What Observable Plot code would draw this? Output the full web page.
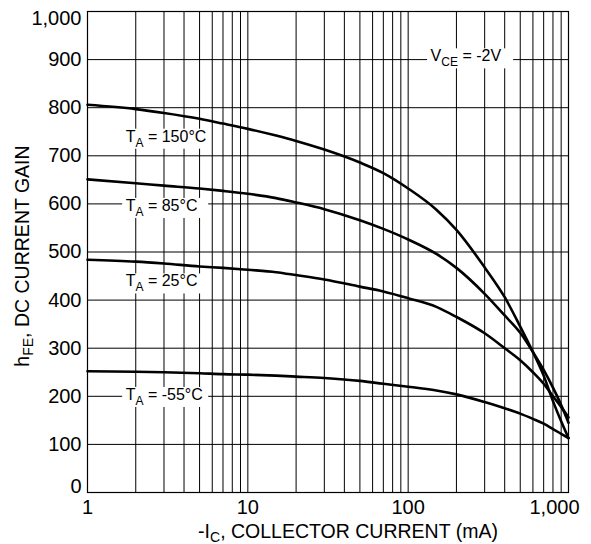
<!DOCTYPE html>
<html>
<head>
<meta charset="utf-8">
<script src="https://cdn.jsdelivr.net/npm/d3@7"></script>
<script src="https://cdn.jsdelivr.net/npm/@observablehq/plot@0.6"></script>
<style>
  html, body { margin: 0; padding: 0; background: #fff; }
  #chart svg { display: block; }
</style>
</head>
<body>
<div id="chart"></div>
<script>
// Collector current (mA), shared by every temperature curve
const current = [1, 2, 3, 5, 7, 10, 15, 20, 30, 50, 70, 100, 150, 200, 300, 400, 500, 600, 700, 800, 900, 1000];

// DC current gain hFE at each ambient temperature
const gain150 = [806, 797, 789, 777, 767, 756, 742, 731, 713, 686, 664, 632, 588, 546, 468, 406, 345, 292, 243, 190, 148, 113];
const gain85  = [651, 643, 638, 632, 627, 621, 612, 603, 589, 566, 548, 526, 496, 467, 413, 368, 332, 292, 255, 218, 182, 145];
const gain25  = [484, 480, 476, 470, 467, 463, 458, 452, 443, 428, 418, 404, 386, 365, 331, 300, 275, 250, 226, 200, 178, 156];
const gainM55 = [252, 251, 250, 248, 246, 245, 243, 241, 238, 232, 226, 220, 212, 204, 188, 175, 164, 153, 143, 132, 122, 113];

const seriesKeys = ["150", "85", "25", "-55"];
const seriesValues = [gain150, gain85, gain25, gainM55];

// In-plot annotations: main letter, subscript, remainder, anchor position
const labelMain = ["T", "T", "T", "T", "V"];
const labelSub  = ["A", "A", "A", "A", "CE"];
const labelRest = [" = 150°C", " = 85°C", " = 25°C", " = -55°C", " = -2V"];
const labelX    = [1.73, 1.73, 1.73, 1.73, 138];
const labelY    = [740, 596, 439, 203, 907];

// Axes
const xTickLabels = [1, 10, 100];
const xLastTick = [1000];
const yTickLabels = [100, 200, 300, 400, 500, 600, 700, 800, 900];
const yTopTick = [1000];
const yBottomTick = [0];
const gridX = [1, 2, 3, 4, 5, 6, 7, 8, 9,
               10, 20, 30, 40, 50, 60, 70, 80, 90,
               100, 200, 300, 400, 500, 600, 700, 800, 900, 1000];
const gridY = [0, 100, 200, 300, 400, 500, 600, 700, 800, 900, 1000];

const xTitle = {main: "-I", sub: "C", rest: ", COLLECTOR CURRENT (mA)"};
const yTitle = {main: "h", sub: "FE", rest: ", DC CURRENT GAIN"};

const rows = seriesKeys.flatMap((k, s) =>
  current.map((c, i) => ({ic: c, hfe: seriesValues[s][i], t: k}))
);
const labelIdx = labelMain.map((_, i) => i);
const fmt = d3.format(",");
const FONT = "'Liberation Sans', Arial, Helvetica, sans-serif";

const chart = Plot.plot({
  width: 591,
  height: 544,
  marginLeft: 87,
  marginRight: 23,
  marginTop: 11,
  marginBottom: 52,
  x: {type: "log", domain: [1, 1000], axis: null},
  y: {domain: [0, 1000], axis: null},
  style: {fontFamily: FONT, background: "#fff", color: "#000"},
  marks: [
    Plot.ruleX(gridX, {stroke: "#000", strokeWidth: 1}),
    Plot.ruleY(gridY, {stroke: "#000", strokeWidth: 1}),
    Plot.frame({stroke: "#000", strokeWidth: 1.2}),
    Plot.line(rows, {x: "ic", y: "hfe", z: "t", stroke: "#000", strokeWidth: 2.6, curve: "monotone-x"}),
    Plot.text(labelIdx, {
      x: i => labelX[i], y: i => labelY[i],
      text: i => labelMain[i] + labelSub[i] + labelRest[i],
      textAnchor: "start", fontSize: 16, fill: "#000"
    }),
    // tick labels
    Plot.text(xTickLabels, {x: d => d, text: d => fmt(d), frameAnchor: "bottom", lineAnchor: "top", dy: 7, fontSize: 20, fill: "#000"}),
    Plot.text(xLastTick, {x: d => d, text: d => fmt(d), frameAnchor: "bottom", lineAnchor: "top", dy: 7, dx: -14, fontSize: 20, fill: "#000"}),
    Plot.text(yTickLabels, {y: d => d, text: d => fmt(d), frameAnchor: "left", textAnchor: "end", dx: -6, fontSize: 20, fill: "#000"}),
    Plot.text(yTopTick, {y: d => d, text: d => fmt(d), frameAnchor: "left", textAnchor: "end", dx: -6, dy: 7, fontSize: 20, fill: "#000"}),
    Plot.text(yBottomTick, {y: d => d, text: d => fmt(d), frameAnchor: "left", textAnchor: "end", dx: -6, dy: -6, fontSize: 20, fill: "#000"}),
    // axis titles
    Plot.text([xTitle], {text: d => d.main + d.sub + d.rest, frameAnchor: "bottom", textAnchor: "middle", lineAnchor: "top", dy: 32, dx: 20, fontSize: 19.5, fill: "#000"}),
    Plot.text([yTitle], {text: d => d.main + d.sub + d.rest, frameAnchor: "left", textAnchor: "middle", rotate: -90, dx: -65, dy: 4, fontSize: 19.5, fill: "#000"})
  ]
});

document.getElementById("chart").append(chart);

// Rewrite plain strings into main text + subscript tspans
const NS = "http://www.w3.org/2000/svg";
function subscript(el, main, sub, rest, subSize, shift) {
  el.textContent = "";
  const a = document.createElementNS(NS, "tspan");
  a.textContent = main;
  const b = document.createElementNS(NS, "tspan");
  b.setAttribute("dy", shift);
  b.setAttribute("font-size", subSize);
  b.textContent = sub;
  const c = document.createElementNS(NS, "tspan");
  c.setAttribute("dy", -shift);
  c.textContent = rest;
  el.append(a, b, c);
}

const texts = Array.from(chart.querySelectorAll("text"));
labelIdx.forEach(i => {
  const full = labelMain[i] + labelSub[i] + labelRest[i];
  const el = texts.find(t => t.textContent === full);
  if (!el) return;
  subscript(el, labelMain[i], labelSub[i], labelRest[i], 12, 5);
  // white box behind the annotation so grid lines stop at its edges
  const bb = el.getBBox();
  const r = document.createElementNS(NS, "rect");
  r.setAttribute("x", bb.x - 3.5);
  r.setAttribute("y", bb.y + 1);
  r.setAttribute("width", Math.max(bb.width + 7, 86));
  r.setAttribute("height", bb.height - 2);
  r.setAttribute("fill", "#fff");
  const tr = el.getAttribute("transform");
  if (tr) r.setAttribute("transform", tr);
  el.parentNode.insertBefore(r, el);
});
[xTitle, yTitle].forEach(t => {
  const el = texts.find(e => e.textContent === t.main + t.sub + t.rest);
  if (el) subscript(el, t.main, t.sub, t.rest, 14, 4);
});
</script>
</body>
</html>
